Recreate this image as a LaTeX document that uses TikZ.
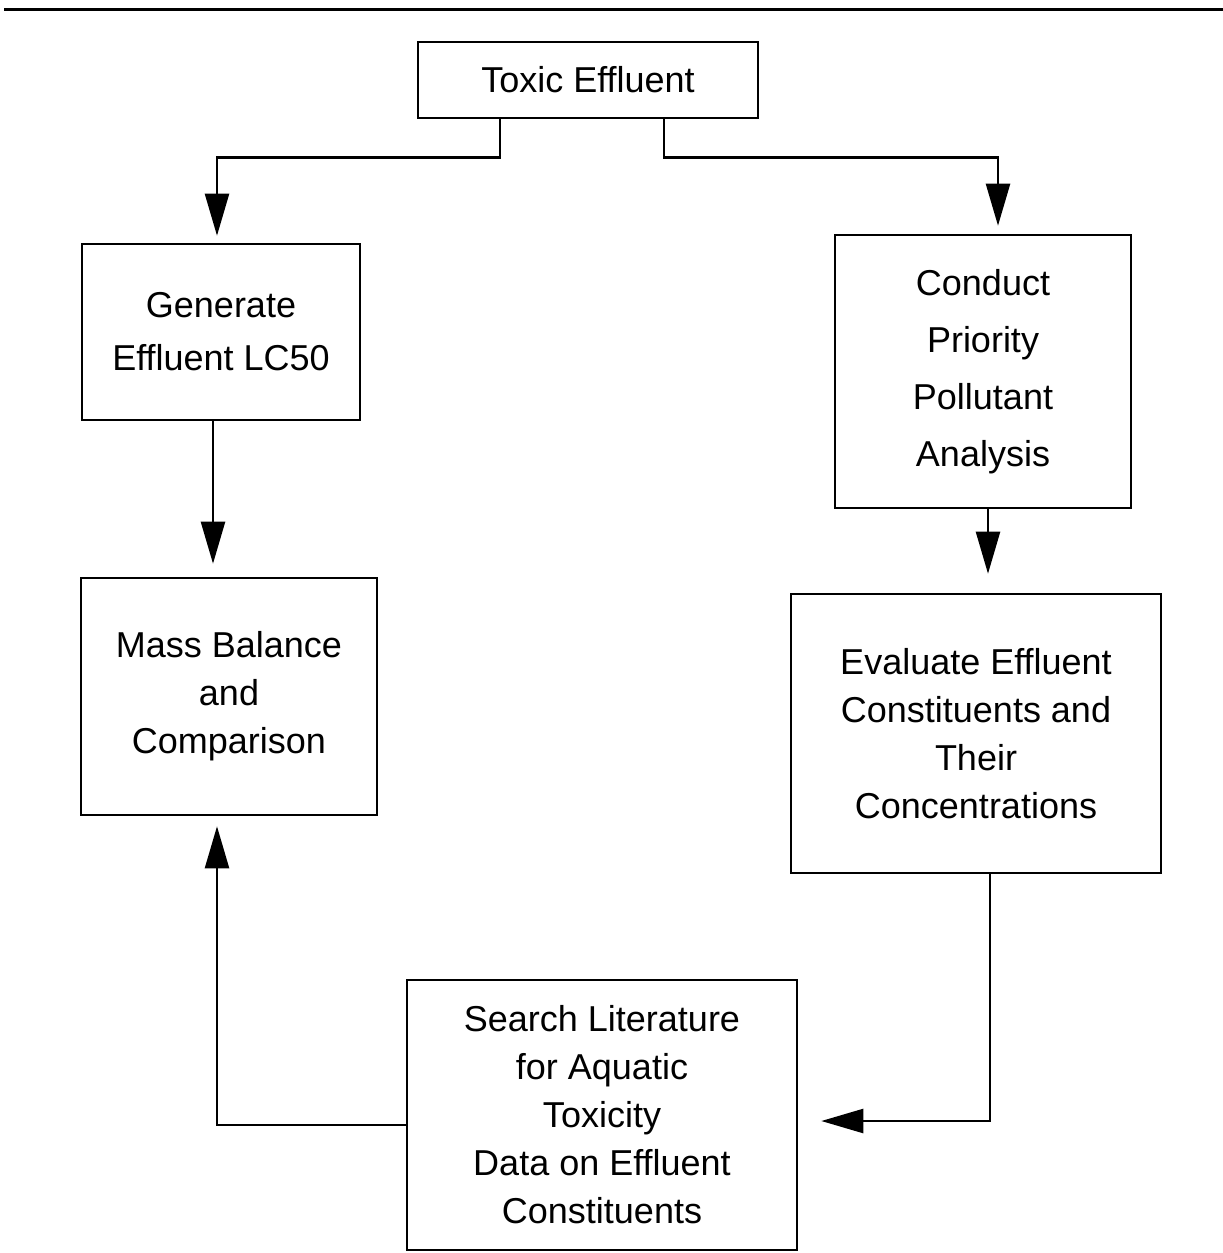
\documentclass[tikz,border=0pt]{standalone}
\usepackage{fontspec}
\setmainfont{Liberation Sans}
\usetikzlibrary{arrows.meta}
\begin{document}
\begin{tikzpicture}[x=1pt,y=-1pt,
  box/.style={draw, line width=2.6pt, align=center, inner sep=0pt, font=\fontsize{36}{48}\selectfont},
  conn/.style={line width=2.4pt},
  arr/.style={conn, -{Triangle[length=42pt,width=24pt]}}]
\useasboundingbox[fill=white] (0,0) rectangle (1223,1253);
\draw[line width=3pt] (4,9) -- (1223,9);
\node[box, minimum width=340pt, minimum height=76pt] (te) at (588,80) {Toxic Effluent};
\node[box, minimum width=278pt, minimum height=176pt, font=\fontsize{36}{53}\selectfont] (gen) at (221,332) {Generate\\Effluent LC50};
\node[box, minimum width=296pt, minimum height=273pt, font=\fontsize{36}{57}\selectfont] (cpp) at (983,371.5) {Conduct\\Priority\\Pollutant\\Analysis};
\node[box, minimum width=296pt, minimum height=237pt] (mass) at (229,696.5) {Mass Balance\\and\\Comparison};
\node[box, minimum width=370pt, minimum height=279pt] (eval) at (976,733.5) {Evaluate Effluent\\Constituents and\\Their\\Concentrations};
\node[box, minimum width=390pt, minimum height=270pt] (search) at (602,1115) {Search Literature\\for Aquatic\\Toxicity\\Data on Effluent\\Constituents};
\draw[arr, shorten >=7pt] ([xshift=-88pt]te.south) -- ++(0,38) -| ([xshift=-4pt]gen.north);
\draw[arr, shorten >=8pt] ([xshift=76pt]te.south) -- ++(0,38) -| ([xshift=15pt]cpp.north);
\draw[arr, shorten >=13pt] ([xshift=-8pt]gen.south) -- ([xshift=-8pt]gen.south |- mass.north);
\draw[arr, shorten >=19pt] ([xshift=5pt]cpp.south) -- ([xshift=5pt]cpp.south |- eval.north);
\draw[arr, shorten >=23pt] ([xshift=14pt]eval.south) |- ([yshift=-6pt]search.east);
\draw[arr, shorten >=10pt] ([yshift=-10pt]search.west) -| ([xshift=-12pt]mass.south);
\end{tikzpicture}
\end{document}
